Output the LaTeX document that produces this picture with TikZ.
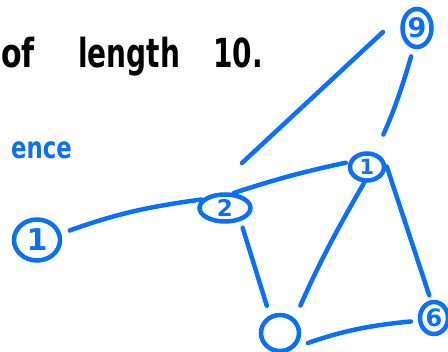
\documentclass[tikz,border=0pt]{standalone}
\usepackage{fontspec}
\setmainfont{DejaVu Sans}
\usetikzlibrary{shapes.geometric}
\definecolor{pen}{RGB}{10,112,245}
\begin{document}
\begin{tikzpicture}[x=1pt,y=-1pt,
  penline/.style={draw=pen,line width=4.5pt,line cap=round},
  gnode/.style={ellipse,penline,inner sep=0pt,text=pen,font=\bfseries\fontsize{21}{21}\selectfont},
  big/.style={font=\bfseries\fontsize{30}{30}\selectfont},
  edge/.style={penline},
  inktext/.style={anchor=base west,inner sep=0pt,font=\bfseries\fontsize{40}{40}\selectfont},
  bluetext/.style={anchor=base west,inner sep=0pt,text=pen,font=\bfseries\fontsize{30}{30}\selectfont}]
\useasboundingbox (0,0) rectangle (448,352);
\clip (0,0) rectangle (448,352);
% handwritten texts
\node[inktext] (tof) at (1,68) {\scalebox{0.75}[1]{of}};
\node[inktext] (tlen) at (78,68) {\scalebox{0.7}[1]{length}};
\node[inktext] (tten) at (213,68) {\scalebox{0.7}[1]{10.}};
\node[bluetext] (tseq) at (11,159) {\scalebox{0.76}[1]{ence}};
% nodes
\node[gnode,big,minimum width=46pt,minimum height=41pt] (n1) at (37,240) {1};
\node[gnode,font=\bfseries\fontsize{23}{23}\selectfont,minimum width=51pt,minimum height=27pt] (n2) at (225,208) {2};
\node[gnode,font=\bfseries\fontsize{27}{27}\selectfont,minimum width=29pt,minimum height=38pt] (n9) at (417,28) {9};
\node[gnode,minimum width=34pt,minimum height=27pt] (nr) at (367,167) {1};
\node[gnode,minimum width=38pt,minimum height=36pt] (nb) at (280,333) {};
\node[gnode,font=\bfseries\fontsize{24}{24}\selectfont,minimum width=28pt,minimum height=32pt] (nc) at (434,318) {6};
% free line
\coordinate (la) at (242,163);
\coordinate (lb) at (383,32);
% connectors
\draw[edge,shorten <=9pt] (n1.15) to[bend left=6] (n2.160);
\draw[edge,shorten >=3pt] (n2.60) to[bend left=3] (nr.165);
\draw[edge] (la) -- (lb);
\draw[edge,shorten <=8pt,shorten >=20pt] (n9.260) to[bend left=4] (nr.60);
\draw[edge,shorten <=7pt,shorten >=10pt] (n2.320) -- (nb.120);
\draw[edge,shorten >=14pt] (nr.260) to[bend right=3] (nb.45);
\draw[edge,shorten <=3pt,shorten >=5pt] (nr.10) -- (nc.100);
\draw[edge,shorten <=14pt,shorten >=7pt] (nb.315) to[bend left=7] (nc.190);
\end{tikzpicture}
\end{document}
